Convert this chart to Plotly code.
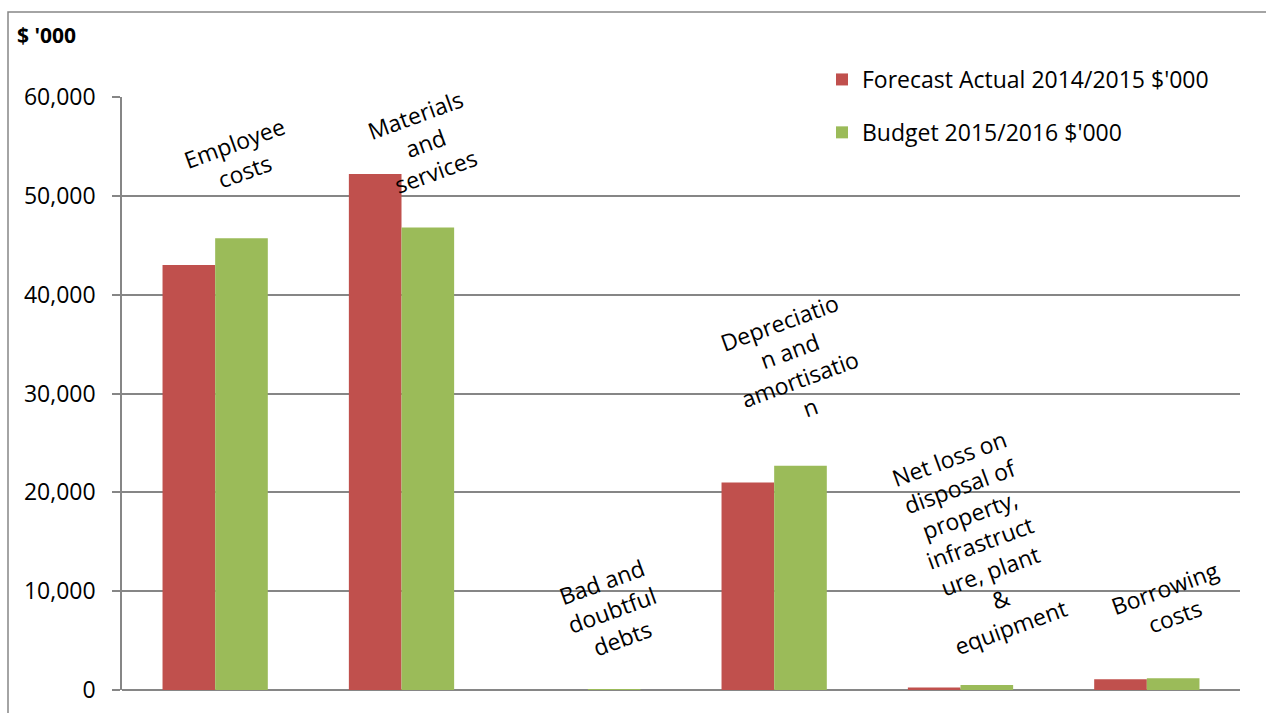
import plotly.graph_objects as go

# Expense categories and values ($'000)
categories = [
    "Employee costs",
    "Materials and services",
    "Bad and doubtful debts",
    "Depreciation and amortisation",
    "Net loss on disposal",
    "Borrowing costs",
]
forecast_2014_15 = [43000, 52200, 0, 21000, 250, 1100]
budget_2015_16 = [45700, 46800, 40, 22700, 500, 1200]

# Wrapped category captions drawn above each group
label_text = [
    "Employee<br>costs",
    "Materials<br>and<br>services",
    "Bad and<br>doubtful<br>debts",
    "Depreciatio<br>n and<br>amortisatio<br>n",
    "Net loss on<br>disposal of<br>property,<br>infrastruct<br>ure, plant<br>&<br>equipment",
    "Borrowing<br>costs",
]
label_y = [53900, 55300, 8100, 32900, 14900, 8900]
label_dx = [24, 24, 24, 20, 19, 23]

RED = "#C0504D"
GREEN = "#9BBB59"
GRID = "#868686"
FONT = "Open Sans"

W, H = 1266, 713
ML, MR, MT, MB = 122, 26, 97, 23
PW, PH = W - ML - MR, H - MT - MB


def px_x(v):
    return (v - ML) / PW


def px_y(v):
    return (H - MB - v) / PH


fig = go.Figure()
fig.add_trace(go.Bar(
    x=categories, y=forecast_2014_15, name="Forecast Actual 2014/2015 $'000",
    marker=dict(color=RED, line=dict(width=0)), legendgroup="a",
))
fig.add_trace(go.Bar(
    x=categories, y=budget_2015_16, name="Budget 2015/2016 $'000",
    marker=dict(color=GREEN, line=dict(width=0)), legendgroup="b",
))

annotations = [
    dict(x=c, y=yv, xref="x", yref="y", text=t, showarrow=False,
         textangle=-20, xshift=dx, font=dict(family=FONT, size=23, color="#000"),
         align="center")
    for c, t, yv, dx in zip(categories, label_text, label_y, label_dx)
]
annotations.append(dict(
    x=px_x(15), y=px_y(35), xref="paper", yref="paper", text="<b>$ '000</b>",
    showarrow=False, font=dict(family=FONT, size=21, color="#000"),
    xanchor="left", yanchor="middle",
))

fig.update_layout(
    width=W, height=H,
    margin=dict(l=ML, r=MR, t=MT, b=MB, autoexpand=False),
    paper_bgcolor="white", plot_bgcolor="white",
    barmode="group", bargap=0.435, bargroupgap=0,
    font=dict(family=FONT, size=23, color="#000"),
    showlegend=True,
    legend=dict(
        x=px_x(822), y=px_y(58), xanchor="left", yanchor="top",
        font=dict(family=FONT, size=23, color="#000"),
        bgcolor="rgba(0,0,0,0)", tracegroupgap=20, traceorder="grouped",
        itemwidth=30,
    ),
    annotations=annotations,
    shapes=[dict(
        type="rect", xref="paper", yref="paper",
        x0=px_x(8), x1=px_x(1275), y0=px_y(725), y1=px_y(12),
        line=dict(color=GRID, width=1.5), fillcolor="rgba(0,0,0,0)",
        layer="below",
    )],
)
fig.update_xaxes(showticklabels=False, showgrid=False, ticks="", zeroline=False,
                 showline=False, automargin=False)
fig.update_yaxes(
    range=[0, 60000], tickvals=[0, 10000, 20000, 30000, 40000, 50000, 60000],
    tickformat=",d", showgrid=True, gridcolor=GRID, gridwidth=1.5,
    showline=True, linecolor=GRID, linewidth=1.5,
    ticks="outside", ticklen=8, tickcolor=GRID, tickwidth=1.5,
    zeroline=True, zerolinecolor=GRID, zerolinewidth=1.5,
    ticklabelstandoff=12, automargin=False,
)

fig.write_html("out.html")
